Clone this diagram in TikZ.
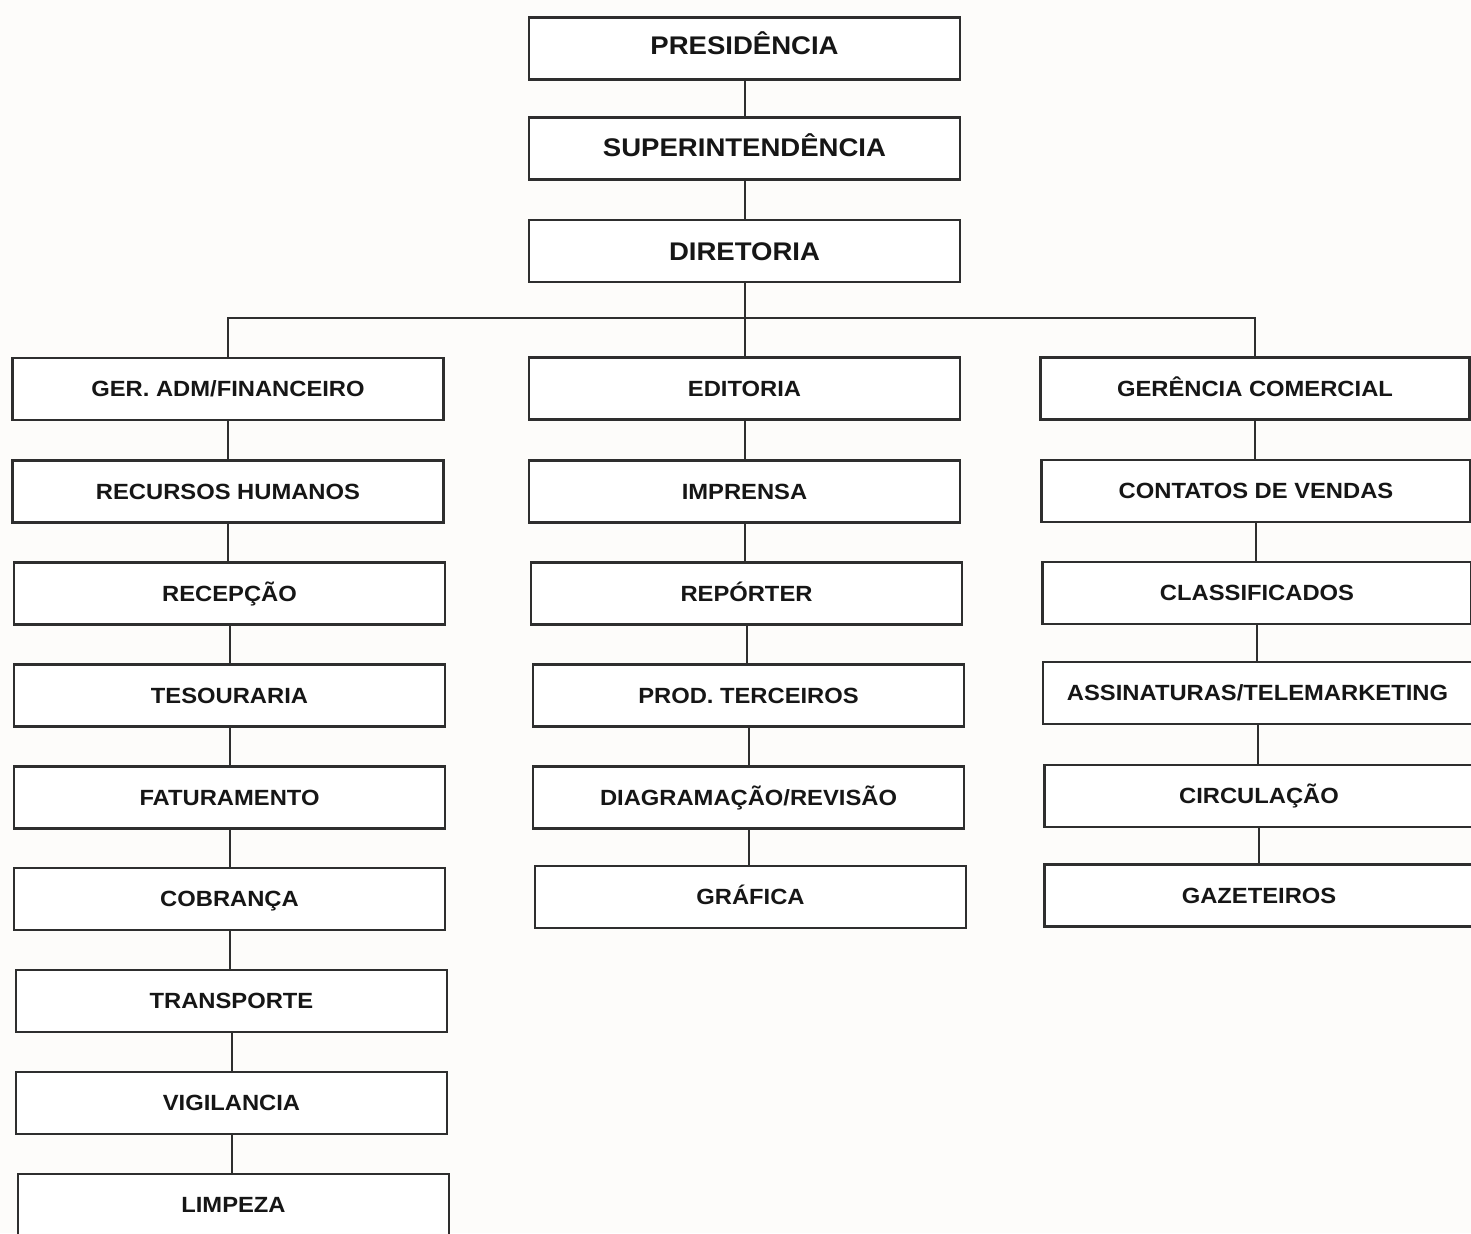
\documentclass[tikz,border=0pt]{standalone}
\usepackage{fontspec}
\setmainfont{Liberation Sans}[FakeStretch=1.08]
\definecolor{bg}{HTML}{FDFCFA}
\definecolor{ln}{HTML}{2E2E2E}
\definecolor{tx}{HTML}{161616}
\begin{document}
\begin{tikzpicture}[x=1pt,y=-1pt,
  orgbox/.style={draw=ln, line width=2.1pt, fill=white, text=tx,
    minimum width=431pt, minimum height=62pt, inner sep=0pt,
    text height=15.8pt, text depth=0pt,
    font=\bfseries\fontsize{22}{22}\selectfont},
  topbox/.style={orgbox, text height=18.4pt, font=\bfseries\fontsize{25.5}{25.5}\selectfont},
  rbox/.style={orgbox, minimum width=429pt},
  link/.style={draw=ln, line width=2pt}]
\fill[bg] (0,0) rectangle (1471,1233);
\useasboundingbox (0,0) rectangle (1471,1233);
% top
\node[topbox] (pres) at (744.5,48.5) {\raisebox{3pt}{PRESIDÊNCIA}};
\node[topbox] (sup) at (744.5,148.5) {\raisebox{1.5pt}{SUPERINTENDÊNCIA}};
\node[topbox] (dir) at (744.5,251) {DIRETORIA};
% left column
\node[orgbox] (gaf) at (228,389) {GER. ADM/FINANCEIRO};
\node[orgbox] (rh) at (228,491.5) {RECURSOS HUMANOS};
\node[orgbox] (rec) at (229.5,593.5) {RECEPÇÃO};
\node[orgbox] (tes) at (229.5,695.5) {TESOURARIA};
\node[orgbox] (fat) at (229.5,797.5) {FATURAMENTO};
\node[orgbox] (cob) at (229.5,899) {COBRANÇA};
\node[orgbox] (tra) at (231.5,1001) {TRANSPORTE};
\node[orgbox] (vig) at (231.5,1103) {VIGILANCIA};
\node[orgbox] (lim) at (233.5,1205) {LIMPEZA};
% middle column
\node[orgbox] (edi) at (744.5,388.5) {EDITORIA};
\node[orgbox] (imp) at (744.5,491.5) {IMPRENSA};
\node[orgbox] (rep) at (746.5,593.5) {REPÓRTER};
\node[orgbox] (prod) at (748.5,695.5) {PROD. TERCEIROS};
\node[orgbox] (diag) at (748.5,797.5) {DIAGRAMAÇÃO/REVISÃO};
\node[orgbox] (graf) at (750.5,897) {GRÁFICA};
% right column
\node[rbox] (gc) at (1255,388.5) {GERÊNCIA COMERCIAL};
\node[rbox] (cv) at (1256,491) {CONTATOS DE VENDAS};
\node[rbox] (cla) at (1257,593) {CLASSIFICADOS};
\node[rbox] (ass) at (1257.5,693) {ASSINATURAS/TELEMARKETING};
\node[rbox] (cir) at (1259,796) {CIRCULAÇÃO};
\node[rbox] (gaz) at (1259,895.5) {GAZETEIROS};
% connectors
\coordinate (bar) at (744.5,318);
\path[link] (pres.south) -- (pres.south |- sup.north);
\path[link] (sup.south) -- (sup.south |- dir.north);
\path[link] (dir.south) -- (dir.south |- edi.north);
\path[link] (gaf.north) |- (bar) -| (gc.north);
\foreach \a/\b in {gaf/rh, rh/rec, rec/tes, tes/fat, fat/cob, cob/tra, tra/vig, vig/lim,
                   edi/imp, imp/rep, rep/prod, prod/diag, diag/graf,
                   gc/cv, cv/cla, cla/ass, ass/cir, cir/gaz}
  \path[link] (\a.south) -- (\a.south |- \b.north);
\end{tikzpicture}
\end{document}
